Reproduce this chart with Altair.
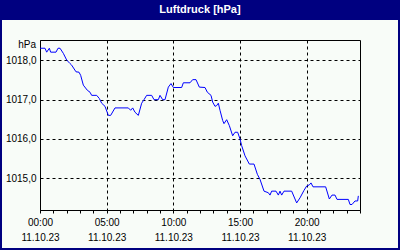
import altair as alt
import pandas as pd

# Time of day in hours (11.10.23) and air pressure in hPa
hours = [0, 0.375, 0.5, 0.7, 0.8, 1.2, 1.35, 1.5, 1.75, 2.0, 2.25, 2.375, 2.7, 2.925, 3.05,
         3.25, 3.55, 3.75, 3.875, 4.25, 4.45, 4.625, 4.875, 5.125, 5.3, 5.625, 6.625, 6.8,
         6.95, 7.125, 7.375, 7.625, 7.8, 8.0, 8.375, 8.55, 8.875, 9.0, 9.2, 9.375, 9.625,
         9.825, 10.0, 10.625, 10.75, 11.25, 11.45, 11.7, 11.95, 12.375, 12.55, 12.825,
         12.95, 13.125, 13.25, 13.375, 13.5, 13.7, 13.8, 14.0, 14.2, 14.45, 14.625, 14.825,
         15.0, 15.125, 15.375, 15.7, 16.05, 16.3, 16.5, 16.8, 17.125, 17.25, 17.375, 17.7,
         17.875, 18.0, 18.125, 18.3, 18.875, 19.25, 19.5, 19.8, 20.0, 20.2, 20.325, 20.475,
         21.425, 21.7, 21.9, 22.125, 22.275, 23.125, 23.25, 23.4, 23.625, 23.825, 23.875]
pressure = [1018.31, 1018.31, 1018.21, 1018.31, 1018.21, 1018.21, 1018.31, 1018.31, 1018.18,
            1018.01, 1017.92, 1017.88, 1017.71, 1017.70, 1017.62, 1017.37, 1017.24, 1017.19,
            1017.11, 1017.11, 1017.03, 1016.91, 1016.83, 1016.60, 1016.60, 1016.79, 1016.79,
            1016.73, 1016.79, 1016.68, 1016.60, 1016.91, 1017.00, 1017.11, 1017.11, 1017.00,
            1017.00, 1017.11, 1017.00, 1017.00, 1017.32, 1017.41, 1017.31, 1017.31, 1017.43,
            1017.43, 1017.51, 1017.51, 1017.32, 1017.31, 1017.19, 1017.11, 1016.94, 1016.83,
            1016.85, 1016.91, 1016.73, 1016.47, 1016.39, 1016.49, 1016.34, 1016.08, 1016.17,
            1016.17, 1016.00, 1015.83, 1015.57, 1015.36, 1015.36, 1015.10, 1014.97, 1014.67,
            1014.63, 1014.57, 1014.67, 1014.67, 1014.57, 1014.67, 1014.57, 1014.67, 1014.67,
            1014.37, 1014.50, 1014.69, 1014.80, 1014.83, 1014.88, 1014.78, 1014.78, 1014.47,
            1014.57, 1014.57, 1014.46, 1014.46, 1014.33, 1014.33, 1014.42, 1014.42, 1014.55]

title_text = "Luftdruck [hPa]"
unit_text = "hPa"
date_text = "11.10.23"
y_ticks = [1015, 1016, 1017, 1018]
x_ticks = list(range(25))

FONT = "Liberation Sans"
NAVY = "#000080"
BG = "#F8FCF8"

df = pd.DataFrame({"h": hours, "p": pressure})
one = alt.Data(values=[{}])

line = alt.Chart(df).mark_line(color="#0000FF", strokeWidth=1, interpolate="linear").encode(
    x=alt.X("h:Q", scale=alt.Scale(domain=[0, 24], nice=False, zero=False),
            axis=alt.Axis(values=x_ticks, title=None, tickSize=3, tickColor="black",
                          domainColor="black", labelColor="black", labelFont=FONT,
                          labelFontSize=10, labelFlush=False, labelOverlap=False,
                          labelPadding=4, labelLineHeight=15, labelBaseline="top",
                          labelExpr="datum.value % 5 == 0 ? [(datum.value < 10 ? '0' : '') + datum.value + ':00', '" + date_text + "'] : ''",
                          grid=True, gridColor="black", gridDash=[3, 3],
                          gridOpacity={"condition": {"test": "datum.value % 5 != 0 || datum.value == 0 || datum.value == 24", "value": 0}, "value": 1})),
    y=alt.Y("p:Q", scale=alt.Scale(domain=[1014.19, 1018.52], nice=False, zero=False),
            axis=alt.Axis(values=y_ticks, title=None, ticks=False, domainColor="black",
                          labelColor="black", labelFont=FONT, labelFontSize=10,
                          labelPadding=4, labelExpr="replace(format(datum.value, '.1f'), '.', ',')",
                          grid=True, gridColor="black", gridDash=[3, 3])),
)

title_bar = alt.Chart(one).mark_rect(color=NAVY).encode(
    x=alt.value(-40), x2=alt.value(360), y=alt.value(-40), y2=alt.value(-20))
left_b = alt.Chart(one).mark_rect(color=NAVY).encode(
    x=alt.value(-40), x2=alt.value(-38), y=alt.value(-40), y2=alt.value(210))
right_b = alt.Chart(one).mark_rect(color=NAVY).encode(
    x=alt.value(358), x2=alt.value(360), y=alt.value(-40), y2=alt.value(210))
bottom_b = alt.Chart(one).mark_rect(color=NAVY).encode(
    x=alt.value(-40), x2=alt.value(360), y=alt.value(208), y2=alt.value(210))
title = alt.Chart(one).mark_text(color="white", font=FONT, fontSize=11, fontWeight="bold",
                                 align="center", baseline="middle").encode(
    x=alt.value(160), y=alt.value(-30), text=alt.value(title_text))
unit = alt.Chart(one).mark_text(color="black", font=FONT, fontSize=10,
                                align="right", baseline="middle").encode(
    x=alt.value(-4), y=alt.value(5), text=alt.value(unit_text))

chart = alt.layer(title_bar, left_b, right_b, bottom_b, title, unit, line).properties(
    width=320, height=170,
    autosize=alt.AutoSizeParams(type="none"),
    padding={"left": 40, "top": 40, "right": 40, "bottom": 40},
    background=BG,
).configure_view(stroke="black", strokeWidth=1, fill=BG)

chart.save("out.html", embed_options={"renderer": "svg", "actions": False})
